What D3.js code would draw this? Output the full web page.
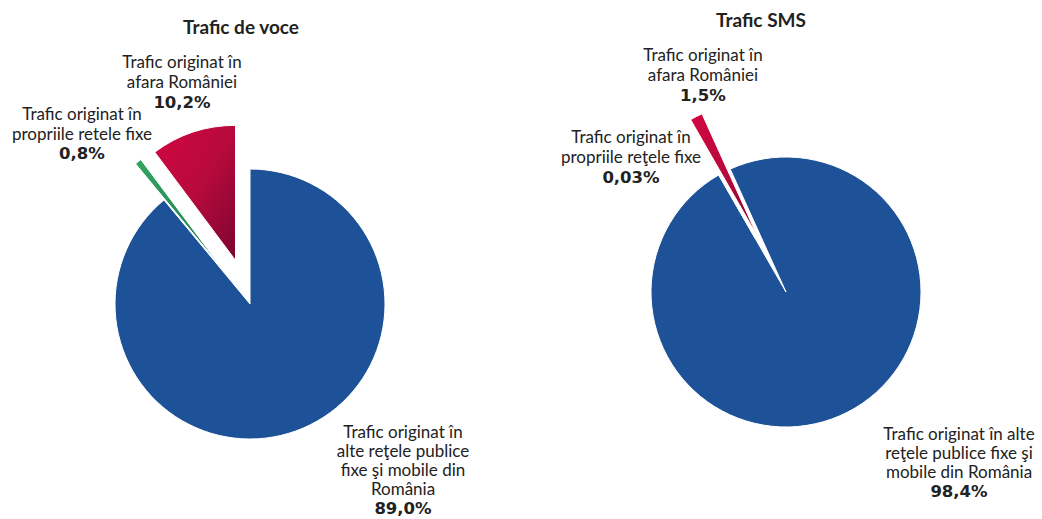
<!DOCTYPE html>
<html>
<head>
<meta charset="utf-8">
<script src="https://cdn.jsdelivr.net/npm/d3@7"></script>
<style>
  html, body { margin: 0; padding: 0; background: #fff; }
  svg { display: block; }
  text { font-family: Lato, "Open Sans", sans-serif; fill: #222; }
</style>
</head>
<body>
<svg id="chart" width="1042" height="519"></svg>
<script>
// ---- data ----
const categories = [
  "Trafic originat în alte reţele publice fixe şi mobile din România",
  "Trafic originat în propriile reţele fixe",
  "Trafic originat în afara României"
];
const titles = ["Trafic de voce", "Trafic SMS"];
const voceValues = [89.0, 0.8, 10.2];
const smsValues = [98.4, 0.03, 1.5];
const voceValueLabels = ["89,0%", "0,8%", "10,2%"];
const smsValueLabels = ["98,4%", "0,03%", "1,5%"];
const voceLabelLines = [
  ["Trafic originat în", "alte reţele publice", "fixe şi mobile din", "România"],
  ["Trafic originat în", "propriile retele fixe"],
  ["Trafic originat în", "afara României"]
];
const smsLabelLines = [
  ["Trafic originat în alte", "reţele publice fixe şi", "mobile din România"],
  ["Trafic originat în", "propriile reţele fixe"],
  ["Trafic originat în", "afara României"]
];

// ---- layout (positions/styles) ----
const svg = d3.select("#chart");
const R = 135;
const deg = Math.PI / 180;

const defs = svg.append("defs");
function linGrad(id, x1, y1, x2, y2, stops, units) {
  const g = defs.append("linearGradient").attr("id", id)
    .attr("x1", x1).attr("y1", y1).attr("x2", x2).attr("y2", y2);
  if (units) g.attr("gradientUnits", units);
  stops.forEach(s => g.append("stop").attr("offset", s[0]).attr("stop-color", s[1]));
}

const pies = [
  {
    title: titles[0], values: voceValues, valueLabels: voceValueLabels, lines: voceLabelLines,
    cx: 250, cy: 304, rot: 0, explode: [0, 46, 46],
    titlePos: [241, 34],
    labelPos: [[403, 438, 19], [82, 120, 19.5], [182, 68, 20]]
  },
  {
    title: titles[1], values: smsValues, valueLabels: smsValueLabels, lines: smsLabelLines,
    cx: 786, cy: 292, rot: -24.4 * deg, explode: [0, 62, 62],
    titlePos: [761, 27],
    labelPos: [[959, 440, 19], [631, 143, 19.8], [703, 61, 20]]
  }
];

pies.forEach((p, pi) => {
  linGrad("blue" + pi, 0, p.cy - R, 0, p.cy + R,
    [[0, "#1e5298"], [1, "#143a6f"]], "userSpaceOnUse");
  linGrad("red" + pi, 0, 0, 1, 1, [[0, "#d0063f"], [0.5, "#b80a3c"], [1, "#7c0530"]]);
  linGrad("green" + pi, 0, 0, 1, 1, [[0, "#33a464"], [1, "#1f7a48"]]);
  const fills = ["url(#blue" + pi + ")", "url(#green" + pi + ")", "url(#red" + pi + ")"];

  const pie = d3.pie().sort(null).value(d => d)
    .startAngle(p.rot).endAngle(p.rot + 2 * Math.PI);
  const arcs = pie(p.values);
  const arc = d3.arc().innerRadius(0).outerRadius(R);

  const g = svg.append("g").attr("transform", `translate(${p.cx},${p.cy})`);
  g.selectAll("path").data(arcs).join("path")
    .attr("transform", (d, i) => {
      const a = (d.startAngle + d.endAngle) / 2;
      const e = p.explode[i];
      return `translate(${Math.sin(a) * e},${-Math.cos(a) * e})`;
    })
    .attr("d", arc)
    .attr("fill", (d, i) => fills[i])
    .attr("stroke", "#fff")
    .attr("stroke-width", 1);

  // title
  svg.append("text")
    .attr("x", p.titlePos[0]).attr("y", p.titlePos[1])
    .attr("text-anchor", "middle")
    .attr("font-size", 19).attr("font-weight", "bold")
    .text(p.title);

  // labels
  p.lines.forEach((lines, i) => {
    const [lx, ly, lh] = p.labelPos[i];
    const t = svg.append("text").attr("text-anchor", "middle").attr("font-size", 17);
    lines.forEach((ln, k) => {
      t.append("tspan").attr("x", lx).attr("y", ly + k * lh).text(ln);
    });
    t.append("tspan").attr("x", lx).attr("y", ly + lines.length * lh)
      .attr("font-family", "'DejaVu Sans', Verdana, sans-serif")
      .attr("font-weight", "bold").attr("font-size", 16.5)
      .text(p.valueLabels[i]);
  });
});
</script>
</body>
</html>
